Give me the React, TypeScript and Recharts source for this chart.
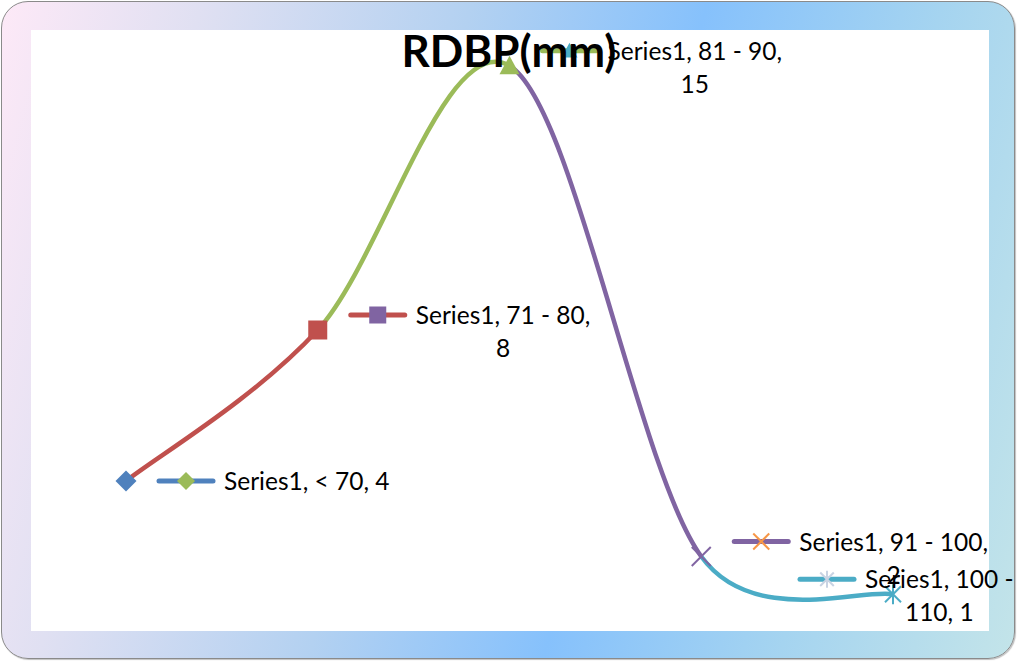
import React from 'react';
import { LineChart, Line, XAxis, YAxis } from 'recharts';

// ---- data ----
const seriesName = 'Series1';
const categories = ['< 70', '71 - 80', '81 - 90', '91 - 100', '100 - 110'];
const values = [4, 8, 15, 2, 1];
const labelLines = [
  ['Series1, < 70, 4'],
  ['Series1, 71 - 80,', '8'],
  ['Series1, 81 - 90,', '15'],
  ['Series1, 91 - 100,', '2'],
  ['Series1, 100 -', '110, 1'],
];
const titleText = 'RDBP(mm)';

// ---- styles ----
const pointColors = ['#4F81BD', '#C0504D', '#9BBB59', '#8064A2', '#4BACC6'];
const keyMarkerColors = ['#9BBB59', '#8064A2', '#4BACC6', '#F79646', '#C9D3E3'];
const markerShapes = ['diamond', 'square', 'triangle', 'x', 'star'];
const mainSizes = [21, 19, 20, 19, 20];
const keySizes = [18, 17, 16, 16, 17];
const labelShift = [0, 0, 0, 0, -126];

const FONT = "Lato, 'Open Sans', sans-serif";
const LABEL_FONT_SIZE = 24.5;

const data = categories.map((c, i) => ({ category: c, value: values[i], name: seriesName }));

let measureCtx: CanvasRenderingContext2D | null = null;
function measure(text: string): number {
  if (typeof document === 'undefined') return text.length * 10;
  if (!measureCtx) {
    const c = document.createElement('canvas');
    measureCtx = c.getContext('2d');
  }
  if (!measureCtx) return text.length * 10;
  measureCtx.font = `${LABEL_FONT_SIZE}px Lato`;
  return measureCtx.measureText(text).width;
}

function capVec(vx: number, vy: number, maxLen: number): [number, number] {
  const len = Math.hypot(vx, vy);
  if (len <= maxLen || len === 0) return [vx, vy];
  const s = maxLen / len;
  return [vx * s, vy * s];
}

// Excel-like smoothed segment (Catmull-Rom style bezier), drawing only segment `seg`
function segmentCurve(seg: number) {
  return function (context: any) {
    let pts: number[][] = [];
    return {
      areaStart() {},
      areaEnd() {},
      lineStart() {
        pts = [];
      },
      lineEnd() {
        const n = pts.length;
        if (seg + 1 >= n) return;
        const p1 = pts[seg];
        const p2 = pts[seg + 1];
        const p0 = pts[Math.max(seg - 1, 0)];
        const p3 = pts[Math.min(seg + 2, n - 1)];
        const k = 1 / 6;
        const d12 = Math.hypot(p2[0] - p1[0], p2[1] - p1[1]);
        const cap = d12 * 0.45;
        const t1 = capVec((p2[0] - p0[0]) * k, (p2[1] - p0[1]) * k, cap);
        const t2 = capVec((p3[0] - p1[0]) * k, (p3[1] - p1[1]) * k, cap);
        context.moveTo(p1[0], p1[1]);
        context.bezierCurveTo(p1[0] + t1[0], p1[1] + t1[1], p2[0] - t2[0], p2[1] - t2[1], p2[0], p2[1]);
      },
      point(x: number, y: number) {
        pts.push([+x, +y]);
      },
    };
  };
}

const segmentCurves = [0, 1, 2, 3].map((s) => segmentCurve(s));

function Marker({ shape, cx, cy, size, color }: { shape: string; cx: number; cy: number; size: number; color: string }) {
  const h = size / 2;
  switch (shape) {
    case 'diamond':
      return (
        <polygon
          points={`${cx},${cy - h} ${cx + h},${cy} ${cx},${cy + h} ${cx - h},${cy}`}
          fill={color}
        />
      );
    case 'square':
      return <rect x={cx - h} y={cy - h} width={size} height={size} fill={color} />;
    case 'triangle':
      return (
        <polygon
          points={`${cx},${cy - h} ${cx + h},${cy + h * 0.85} ${cx - h},${cy + h * 0.85}`}
          fill={color}
        />
      );
    case 'x':
      return (
        <g stroke={color} strokeWidth={2}>
          <line x1={cx - h} y1={cy - h} x2={cx + h} y2={cy + h} />
          <line x1={cx - h} y1={cy + h} x2={cx + h} y2={cy - h} />
        </g>
      );
    case 'star':
    default:
      return (
        <g stroke={color} strokeWidth={2}>
          <line x1={cx - h * 0.8} y1={cy - h * 0.8} x2={cx + h * 0.8} y2={cy + h * 0.8} />
          <line x1={cx - h * 0.8} y1={cy + h * 0.8} x2={cx + h * 0.8} y2={cy - h * 0.8} />
          <line x1={cx} y1={cy - h} x2={cx} y2={cy + h} />
        </g>
      );
  }
}

const renderPointMarker = (props: any) => {
  const { cx, cy, index } = props;
  if (cx == null || cy == null) return <g key={`pm-${index}`} />;
  return (
    <g key={`pm-${index}`}>
      <Marker shape={markerShapes[index]} cx={cx} cy={cy} size={mainSizes[index]} color={pointColors[index]} />
    </g>
  );
};

const renderDataLabel = (props: any) => {
  const { cx, cy, index } = props;
  if (cx == null || cy == null) return <g key={`dl-${index}`} />;
  const lines = labelLines[index];
  const s = labelShift[index];
  const keyStart = cx + 33 + s;
  const keyEnd = cx + 87 + s;
  const keyMid = cx + 60 + s;
  const textX = cx + 98 + s;
  const twoLines = lines.length > 1;
  const base1 = twoLines ? cy - 6 : cy + 9;
  const keyY = base1 - 9;
  const w1 = measure(lines[0]);
  return (
    <g key={`dl-${index}`}>
      <line
        x1={keyStart}
        y1={keyY}
        x2={keyEnd}
        y2={keyY}
        stroke={pointColors[index]}
        strokeWidth={5}
        strokeLinecap="round"
      />
      <Marker shape={markerShapes[index]} cx={keyMid} cy={keyY} size={keySizes[index]} color={keyMarkerColors[index]} />
      <text x={textX} y={base1} fontFamily={FONT} fontSize={LABEL_FONT_SIZE} fill="#000">
        {lines[0]}
      </text>
      {twoLines && (
        <text
          x={textX + w1 / 2}
          y={base1 + 33}
          textAnchor="middle"
          fontFamily={FONT}
          fontSize={LABEL_FONT_SIZE}
          fill="#000"
        >
          {lines[1]}
        </text>
      )}
    </g>
  );
};

export default function App() {
  return (
    <div style={{ position: 'absolute', left: 0, top: 0, width: 1017, height: 661, overflow: 'hidden' }}>
      <div
        style={{
          position: 'absolute',
          left: 1,
          top: 1,
          width: 1014,
          height: 658,
          boxSizing: 'border-box',
          border: '1.5px solid #8a8a8a',
          borderRadius: 27,
          boxShadow: '1px 1px 1px rgba(0,0,0,0.25)',
          background:
            'linear-gradient(104deg, #fde9f7 0%, #e0e0f2 17%, #b3d1f1 40%, #86c1fc 60%, #a5d4f0 80%, #c3e4e9 100%)',
        }}
      />
      <div style={{ position: 'absolute', left: 31, top: 30, width: 958, height: 601, background: '#ffffff' }} />
      <div style={{ position: 'absolute', left: 0, top: 0 }}>
        <LineChart width={1017} height={661} data={data} margin={{ top: 28, right: 27, bottom: 29, left: 31 }}>
          <XAxis dataKey="category" type="category" hide padding={{ left: 95, right: 97 }} />
          <YAxis type="number" domain={[0, 16]} hide />
          {segmentCurves.map((curve, s) => (
            <Line
              key={`seg-${s}`}
              dataKey="value"
              type={curve as any}
              stroke={pointColors[s + 1]}
              strokeWidth={4.5}
              dot={false}
              activeDot={false}
              legendType="none"
              isAnimationActive={false}
            />
          ))}
          <Line
            dataKey="value"
            stroke="none"
            strokeWidth={0}
            dot={renderPointMarker}
            activeDot={false}
            legendType="none"
            isAnimationActive={false}
          />
          <Line
            dataKey="value"
            stroke="none"
            strokeWidth={0}
            dot={renderDataLabel}
            activeDot={false}
            legendType="none"
            isAnimationActive={false}
          />
        </LineChart>
      </div>
      <svg
        width={1017}
        height={661}
        style={{ position: 'absolute', left: 0, top: 0, pointerEvents: 'none' }}
      >
        <text x={509} y={67} textAnchor="middle" fontFamily={FONT} fontWeight="bold" fontSize={44} fill="#000">
          {titleText}
        </text>
      </svg>
    </div>
  );
}
